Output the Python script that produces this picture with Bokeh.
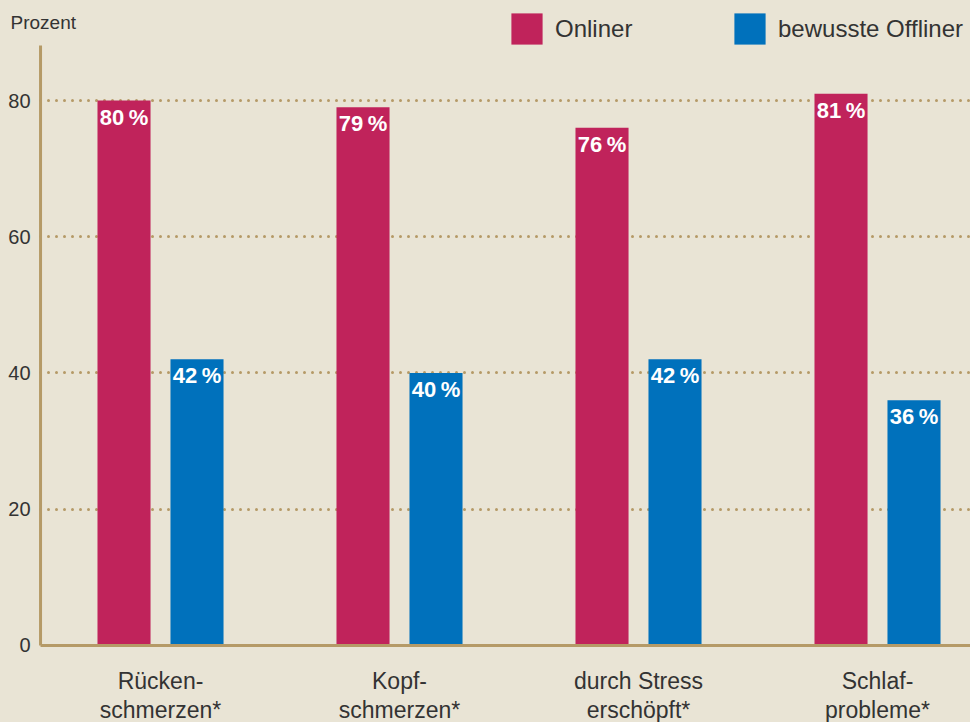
from bokeh.plotting import figure
from bokeh.models import Range1d, Legend, LegendItem, Label, FixedTicker
from bokeh.core.properties import value
from bokeh.embed import file_html
from bokeh.resources import INLINE

# ---- data ----
categories = ["Rücken-\nschmerzen*", "Kopf-\nschmerzen*", "durch Stress\nerschöpft*", "Schlaf-\nprobleme*"]
onliner = [80, 79, 76, 81]
offliner = [42, 40, 42, 36]
series_names = ["Onliner", "bewusste Offliner"]
y_ticks = [0, 20, 40, 60, 80]
grid_ticks = [20, 40, 60, 80]
y_title = "Prozent"

# ---- style ----
BG = "#e9e4d5"
C_ON = "#c0235b"
C_OFF = "#0071bc"
AXIS = "#b59a67"
TXT = "#333333"
FONT = "Liberation Sans"

xs = list(range(len(categories)))
off = 0.1527
bw = 0.222

X0, X1 = -0.6695, 3.3891     # visible x extent
Y0, Y1 = -11.303, 94.679     # visible y extent
AX_X = -0.502                # where the value axis stands
AX_TOP = 88.07               # top of the value axis line

p = figure(width=970, height=722, output_backend="svg", toolbar_location=None,
           x_range=Range1d(X0, X1), y_range=Range1d(Y0, Y1),
           min_border_left=0, min_border_right=0, min_border_top=0, min_border_bottom=0)
p.background_fill_color = BG
p.border_fill_color = BG
p.outline_line_color = None

# grid
p.xgrid.visible = False
p.ygrid.ticker = FixedTicker(ticks=grid_ticks)
p.ygrid.grid_line_color = AXIS
p.ygrid.grid_line_width = 3
p.ygrid.grid_line_dash = "0 8"
p.ygrid.grid_line_cap = "round"
p.ygrid.cross_bounds = (AX_X, X1)

r_on = p.vbar(x=[x - off for x in xs], top=onliner, width=bw, color=C_ON, line_color=None)
r_off = p.vbar(x=[x + off for x in xs], top=offliner, width=bw, color=C_OFF, line_color=None)

# axis lines
p.segment(x0=[AX_X, AX_X], y0=[0, 0], x1=[AX_X, X1], y1=[AX_TOP, 0],
          line_color=AXIS, line_width=3)

for xv, vals in (([x - off for x in xs], onliner), ([x + off for x in xs], offliner)):
    p.text(x=xv, y=vals, text=[f"{v}\u202f%" for v in vals], text_align="center",
           text_baseline="top", y_offset=4, text_color="white", text_font=value(FONT),
           text_font_style="bold", text_font_size="22px")

# axes
p.yaxis.fixed_location = AX_X
p.yaxis.ticker = FixedTicker(ticks=y_ticks)
p.yaxis.major_tick_line_color = None
p.yaxis.minor_tick_line_color = None
p.yaxis.major_tick_out = 0
p.yaxis.major_tick_in = 0
p.yaxis.axis_line_color = None
p.yaxis.major_label_text_font = FONT
p.yaxis.major_label_text_font_size = "20px"
p.yaxis.major_label_text_color = TXT
p.yaxis.major_label_standoff = 10

p.xaxis.fixed_location = 0
p.xaxis.ticker = FixedTicker(ticks=xs)
p.xaxis.major_label_overrides = {i: c for i, c in zip(xs, categories)}
p.xaxis.major_tick_line_color = None
p.xaxis.minor_tick_line_color = None
p.xaxis.major_tick_out = 0
p.xaxis.major_tick_in = 0
p.xaxis.axis_line_color = None
p.xaxis.major_label_text_font = FONT
p.xaxis.major_label_text_font_size = "23px"
p.xaxis.major_label_text_line_height = 1.09
p.xaxis.major_label_text_color = TXT
p.xaxis.major_label_standoff = 23

# unit title
p.add_layout(Label(x=AX_X, y=AX_TOP, x_offset=-30, y_offset=23, text=y_title,
                   text_baseline="middle", text_font=FONT, text_font_size="19px",
                   text_color=TXT))

# legends
for r, name, loc in ((r_on, series_names[0], (507, 674)), (r_off, series_names[1], (730, 674))):
    leg = Legend(items=[LegendItem(label=name, renderers=[r])], location=loc,
                 orientation="horizontal", padding=0, margin=0, spacing=0,
                 border_line_alpha=0, background_fill_alpha=0,
                 glyph_width=39, glyph_height=39, label_standoff=9,
                 label_text_font=FONT, label_text_font_size="24px", label_text_color=TXT)
    p.add_layout(leg)

html = file_html(p, INLINE)
html = html.replace("</head>", "<style>html,body{margin:0;padding:0;overflow:hidden;background:%s;}</style></head>" % BG, 1)
open("out.html", "w").write(html)
